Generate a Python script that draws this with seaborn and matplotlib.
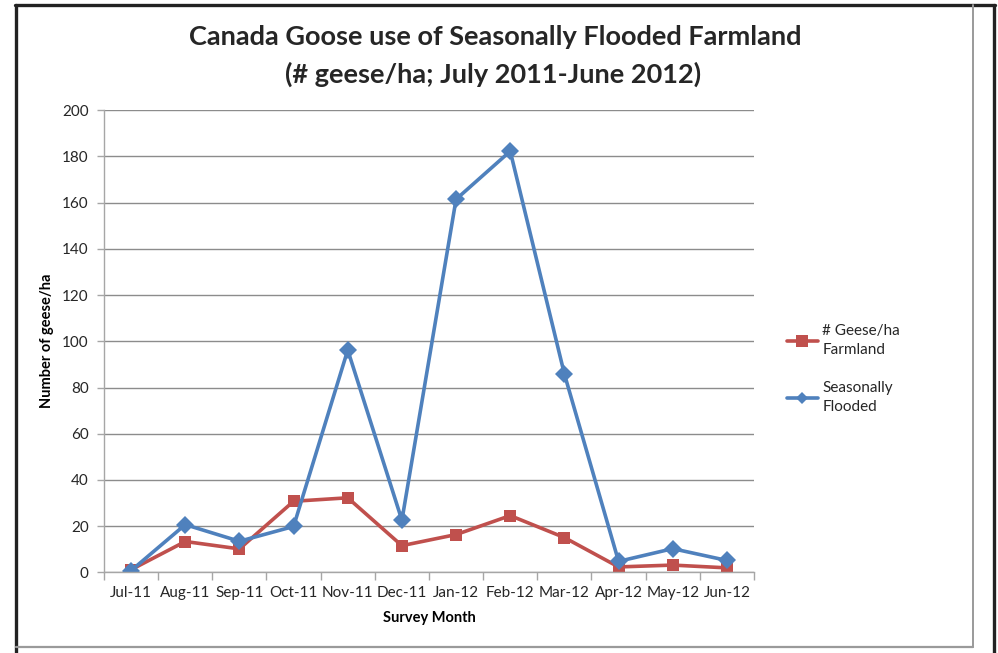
import matplotlib
matplotlib.use("Agg")
import matplotlib.pyplot as plt
from matplotlib.lines import Line2D
import seaborn as sns
import pandas as pd

months = ["Jul-11", "Aug-11", "Sep-11", "Oct-11", "Nov-11", "Dec-11",
          "Jan-12", "Feb-12", "Mar-12", "Apr-12", "May-12", "Jun-12"]
farmland = [1.2, 13.4, 10.2, 30.8, 32.3, 11.6, 16.4, 24.6, 15.1, 2.4, 3.2, 2.0]
flooded = [0.8, 20.7, 13.5, 19.9, 96.2, 22.6, 161.4, 182.2, 85.8, 4.8, 10.3, 5.2]
series_names = ["# Geese/ha\nFarmland", "Seasonally\nFlooded"]
y_ticks = [0, 20, 40, 60, 80, 100, 120, 140, 160, 180, 200]

RED = "#C0504D"
BLUE = "#4F81BD"
FONT = ["Lato", "DejaVu Sans"]

sns.set_theme(style="white")
plt.rcParams["font.family"] = FONT

df = pd.DataFrame({
    "month": months * 2,
    "value": farmland + flooded,
    "series": [series_names[0]] * len(months) + [series_names[1]] * len(months),
})

fig = plt.figure(figsize=(9.98, 6.53), dpi=100)
ax = fig.add_axes([0.1042, 0.1233, 0.6513, 0.7082])

sns.lineplot(data=df, x="month", y="value", hue="series", style="series",
             palette=[RED, BLUE], markers=["s", "D"], dashes=False,
             linewidth=2.6, markersize=9, markeredgewidth=0,
             sort=False, ax=ax, legend=False)

ax.set_ylim(0, 200)
ax.set_xlim(-0.5, len(months) - 0.5)
ax.set_yticks(y_ticks)
ax.set_xticks(range(len(months)))
ax.set_xticklabels(months)
ax.set_xticks([i - 0.5 for i in range(len(months) + 1)], minor=True)

ax.grid(axis="y", color="#8c8c8c", linewidth=1.0)
ax.set_axisbelow(True)
for side in ["top", "right"]:
    ax.spines[side].set_visible(False)
for side in ["left", "bottom"]:
    ax.spines[side].set_color("#a6a6a6")
    ax.spines[side].set_linewidth(1.0)

ax.tick_params(axis="y", which="major", length=5, width=1, color="#a6a6a6",
               labelsize=11, labelcolor="#262626", pad=6, left=True)
ax.tick_params(axis="x", which="major", length=0, labelsize=11,
               labelcolor="#262626", pad=10)
ax.tick_params(axis="x", which="minor", length=6, width=1, color="#a6a6a6",
               bottom=True)

ax.set_xlabel("Survey Month", fontsize=10.5, fontweight="bold", labelpad=8,
              color="#000000")
ax.set_ylabel("Number of geese/ha", fontsize=10.5, fontweight="bold",
              labelpad=6, color="#000000")

fig.text(0.496, 0.943, "Canada Goose use of Seasonally Flooded Farmland",
         ha="center", va="center", fontsize=19.5, fontweight="bold")
fig.text(0.494, 0.886, "(# geese/ha; July 2011-June 2012)",
         ha="center", va="center", fontsize=19.5, fontweight="bold")

handles = [Line2D([], [], color=RED, marker="s", linewidth=2.6, markersize=8.5,
                  markeredgewidth=0),
           Line2D([], [], color=BLUE, marker="D", linewidth=2.6, markersize=6.5,
                  markeredgewidth=0)]
leg = fig.legend(handles, series_names, loc="upper left",
                 bbox_to_anchor=(0.775, 0.525), frameon=False, fontsize=11,
                 handlelength=2.0, handletextpad=0.3, labelspacing=1.6,
                 labelcolor="#262626")
for t in leg.get_texts():
    t.set_linespacing(1.45)

# chart frame
fig.add_artist(Line2D([0.0165, 0.0165], [0.0, 0.992], color="#222222",
                      linewidth=2.4, transform=fig.transFigure))
fig.add_artist(Line2D([0.0155, 0.9965], [0.992, 0.992], color="#222222",
                      linewidth=2.4, transform=fig.transFigure))
fig.add_artist(Line2D([0.9955, 0.9955], [0.0, 0.992], color="#222222",
                      linewidth=2.4, transform=fig.transFigure))
fig.add_artist(Line2D([0.975, 0.975], [0.009, 0.992], color="#9a9a9a",
                      linewidth=1.4, transform=fig.transFigure))
fig.add_artist(Line2D([0.0165, 0.975], [0.009, 0.009], color="#9a9a9a",
                      linewidth=1.6, transform=fig.transFigure))

fig.savefig("out.png", dpi=100)
